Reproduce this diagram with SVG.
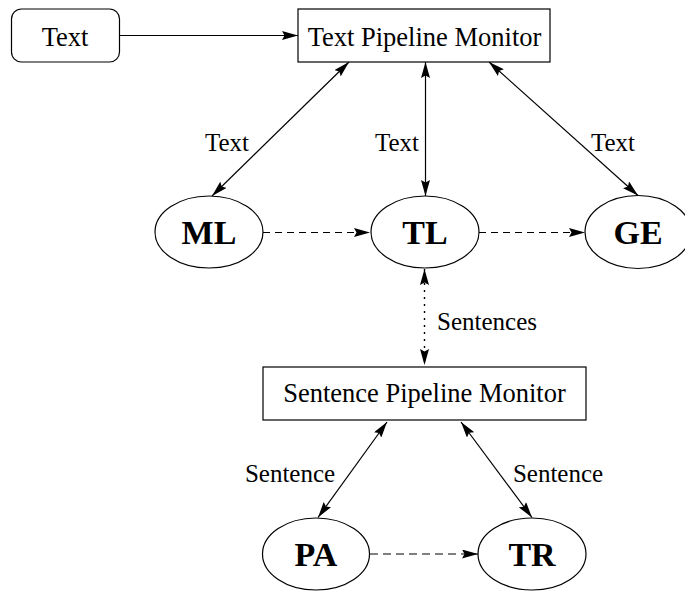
<svg xmlns="http://www.w3.org/2000/svg" width="685" height="594" viewBox="0 0 685 594">
  <style>
    .box { fill: #ffffff; stroke: #000000; stroke-width: 1.2; }
    .node { fill: #ffffff; stroke: #000000; stroke-width: 1.2; }
    .label { font-family: "Liberation Serif", "Times New Roman", serif; font-size: 26.5px; fill: #000000; text-anchor: middle; }
    .name { font-family: "Liberation Serif", "Times New Roman", serif; font-size: 34px; font-weight: bold; fill: #000000; text-anchor: middle; }
    .edge-label { font-family: "Liberation Serif", "Times New Roman", serif; font-size: 25px; fill: #000000; text-anchor: middle; }
    .link { fill: none; stroke: #000000; stroke-width: 1.2; }
    .flow { fill: none; stroke: #000000; stroke-width: 1; stroke-dasharray: 7 5; }
    .flow-grey { fill: none; stroke: #808080; stroke-width: 2; stroke-dasharray: 8 5; }
    .dots { fill: none; stroke: #000000; stroke-width: 1.4; stroke-dasharray: 2 5; }
  </style>
  <defs>
    <marker id="head" viewBox="0 0 16 9" markerUnits="userSpaceOnUse" markerWidth="16" markerHeight="9" refX="16" refY="4.5" orient="auto-start-reverse">
      <path d="M0,0 L16,4.5 L0,9 L2.5,4.5 z" fill="#000000"/>
    </marker>
  </defs>

  <rect width="685" height="594" fill="#ffffff"/>

  <!-- connectors -->
  <g id="connectors">
    <line class="link" x1="120" y1="35.5" x2="298" y2="35.5" marker-end="url(#head)"/>
    <line class="link" x1="349" y1="62" x2="212" y2="196" marker-start="url(#head)" marker-end="url(#head)"/>
    <line class="link" x1="425.5" y1="62" x2="425.5" y2="196" marker-start="url(#head)" marker-end="url(#head)"/>
    <line class="link" x1="489" y1="62" x2="638" y2="195.5" marker-start="url(#head)" marker-end="url(#head)"/>
    <line class="flow" x1="263" y1="232.5" x2="370" y2="232.5" marker-end="url(#head)"/>
    <line class="flow" x1="479" y1="232.5" x2="585" y2="232.5" marker-end="url(#head)"/>
    <line class="dots" x1="424.5" y1="269" x2="424.5" y2="365" marker-start="url(#head)" marker-end="url(#head)"/>
    <line class="link" x1="387" y1="422" x2="318" y2="517.5" marker-start="url(#head)" marker-end="url(#head)"/>
    <line class="link" x1="461" y1="422" x2="532" y2="517.5" marker-start="url(#head)" marker-end="url(#head)"/>
    <line class="flow-grey" x1="370" y1="554" x2="478" y2="554" marker-end="url(#head)"/>
    <text class="edge-label" x="227" y="151">Text</text>
    <text class="edge-label" x="397" y="151">Text</text>
    <text class="edge-label" x="613" y="151">Text</text>
    <text class="edge-label" x="487" y="330">Sentences</text>
    <text class="edge-label" x="290" y="482">Sentence</text>
    <text class="edge-label" x="558" y="482">Sentence</text>
  </g>

  <!-- input source -->
  <g id="text-source">
    <rect class="box" x="11.5" y="9" width="108" height="53" rx="10" ry="10"/>
    <text class="label" x="65" y="45.5">Text</text>
  </g>

  <!-- monitors -->
  <g id="text-pipeline-monitor">
    <rect class="box" x="298" y="9" width="252" height="53"/>
    <text class="label" x="424.5" y="45.5">Text Pipeline Monitor</text>
  </g>
  <g id="sentence-pipeline-monitor">
    <rect class="box" x="263" y="367" width="323" height="53"/>
    <text class="label" x="424.5" y="402">Sentence Pipeline Monitor</text>
  </g>

  <!-- text-level components -->
  <g id="ml">
    <ellipse class="node" cx="209" cy="232" rx="54" ry="36"/>
    <text class="name" x="209" y="244">ML</text>
  </g>
  <g id="tl">
    <ellipse class="node" cx="425" cy="232" rx="54" ry="36"/>
    <text class="name" x="425" y="244">TL</text>
  </g>
  <g id="ge">
    <ellipse class="node" cx="638" cy="232" rx="53" ry="36.5"/>
    <text class="name" x="638" y="244">GE</text>
  </g>

  <!-- sentence-level components -->
  <g id="pa">
    <ellipse class="node" cx="316" cy="554" rx="53.5" ry="36"/>
    <text class="name" x="316" y="566">PA</text>
  </g>
  <g id="tr">
    <ellipse class="node" cx="532" cy="554" rx="54" ry="36"/>
    <text class="name" x="532" y="566">TR</text>
  </g>
</svg>
